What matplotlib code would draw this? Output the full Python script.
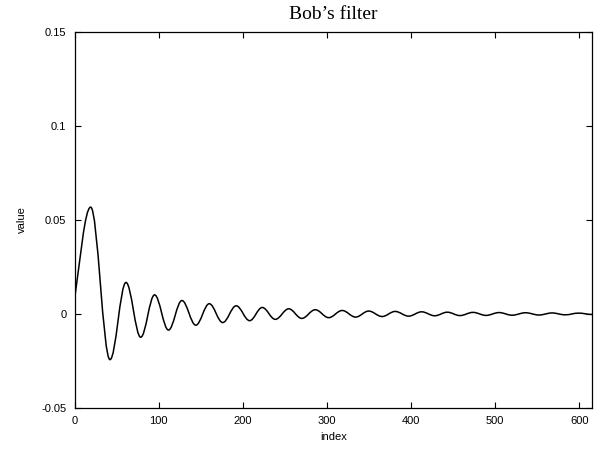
import matplotlib
matplotlib.use("Agg")
import matplotlib.pyplot as plt
from matplotlib.path import Path
from matplotlib.patches import PathPatch

# values: start, local maxima, local minima, end
start_idx, start_val = 0, 0.0083
peak_idx = [19, 61, 95, 127.5, 160, 192, 223, 254.5, 286, 318, 349.5, 381,
            412.5, 443, 473.5, 504.5, 536, 567.5, 599]
peak_val = [0.0567, 0.0167, 0.0101, 0.0071, 0.0054, 0.0043, 0.0034, 0.0027,
            0.0022, 0.0018, 0.0015, 0.0013, 0.0011, 0.0009, 0.0008, 0.0007,
            0.0006, 0.0005, 0.0004]
trough_idx = [42, 78.5, 111.5, 144, 176, 208, 238.5, 270, 302, 334, 365.5,
              397, 428, 458, 489, 520, 552, 583]
trough_val = [-0.0243, -0.0124, -0.0086, -0.0060, -0.0046, -0.0036, -0.0029,
              -0.0024, -0.0020, -0.0017, -0.0014, -0.0012, -0.0010, -0.0009,
              -0.0008, -0.0007, -0.0006, -0.0005]
end_idx, end_val = 615, -0.0003

xticks = [0, 100, 200, 300, 400, 500, 600]
yticks = [-0.05, 0, 0.05, 0.1, 0.15]
ytick_labels = ["-0.05", "0", "0.05", "0.1", "0.15"]

plt.rcParams["font.family"] = ["Liberation Sans", "DejaVu Sans"]

# ordered list of knots
knots = sorted(list(zip(peak_idx, peak_val)) + list(zip(trough_idx, trough_val)))
knots = [(start_idx, start_val)] + knots + [(end_idx, end_val)]

# smooth curve: cubic segments with flat tangents at the extrema
verts = [knots[0]]
codes = [Path.MOVETO]
k = 0.3642
for i in range(1, len(knots)):
    x0, y0 = knots[i - 1]
    x1, y1 = knots[i]
    d = x1 - x0
    if i == 1:
        c1 = (x0 + d / 3, y0 + 0.4 * (y1 - y0))
    else:
        c1 = (x0 + k * d, y0)
    c2 = (x1 - k * d, y1)
    verts += [c1, c2, (x1, y1)]
    codes += [Path.CURVE4] * 3

fig = plt.figure(figsize=(5.97, 4.49), dpi=100)
ax = fig.add_axes([0.1251, 0.0913, 0.8665, 0.8385])

ax.add_patch(PathPatch(Path(verts, codes), facecolor="none",
                       edgecolor="black", linewidth=1.1))

ax.set_xlim(0, 615)
ax.set_ylim(-0.05, 0.15)
ax.set_xticks(xticks)
ax.set_yticks(yticks)
ax.set_yticklabels(ytick_labels)
ax.tick_params(direction="in", length=4, width=0.8, labelsize=8,
               top=True, right=True, pad=6)
for s in ax.spines.values():
    s.set_linewidth(0.9)

ax.set_xlabel("index", fontsize=8, labelpad=4)
ax.set_ylabel("value", fontsize=8, labelpad=10)
ax.set_title("Bob\u2019s filter", fontsize=14, pad=9,
             family=["Liberation Serif", "DejaVu Serif"])

fig.savefig("out.png", dpi=100)
